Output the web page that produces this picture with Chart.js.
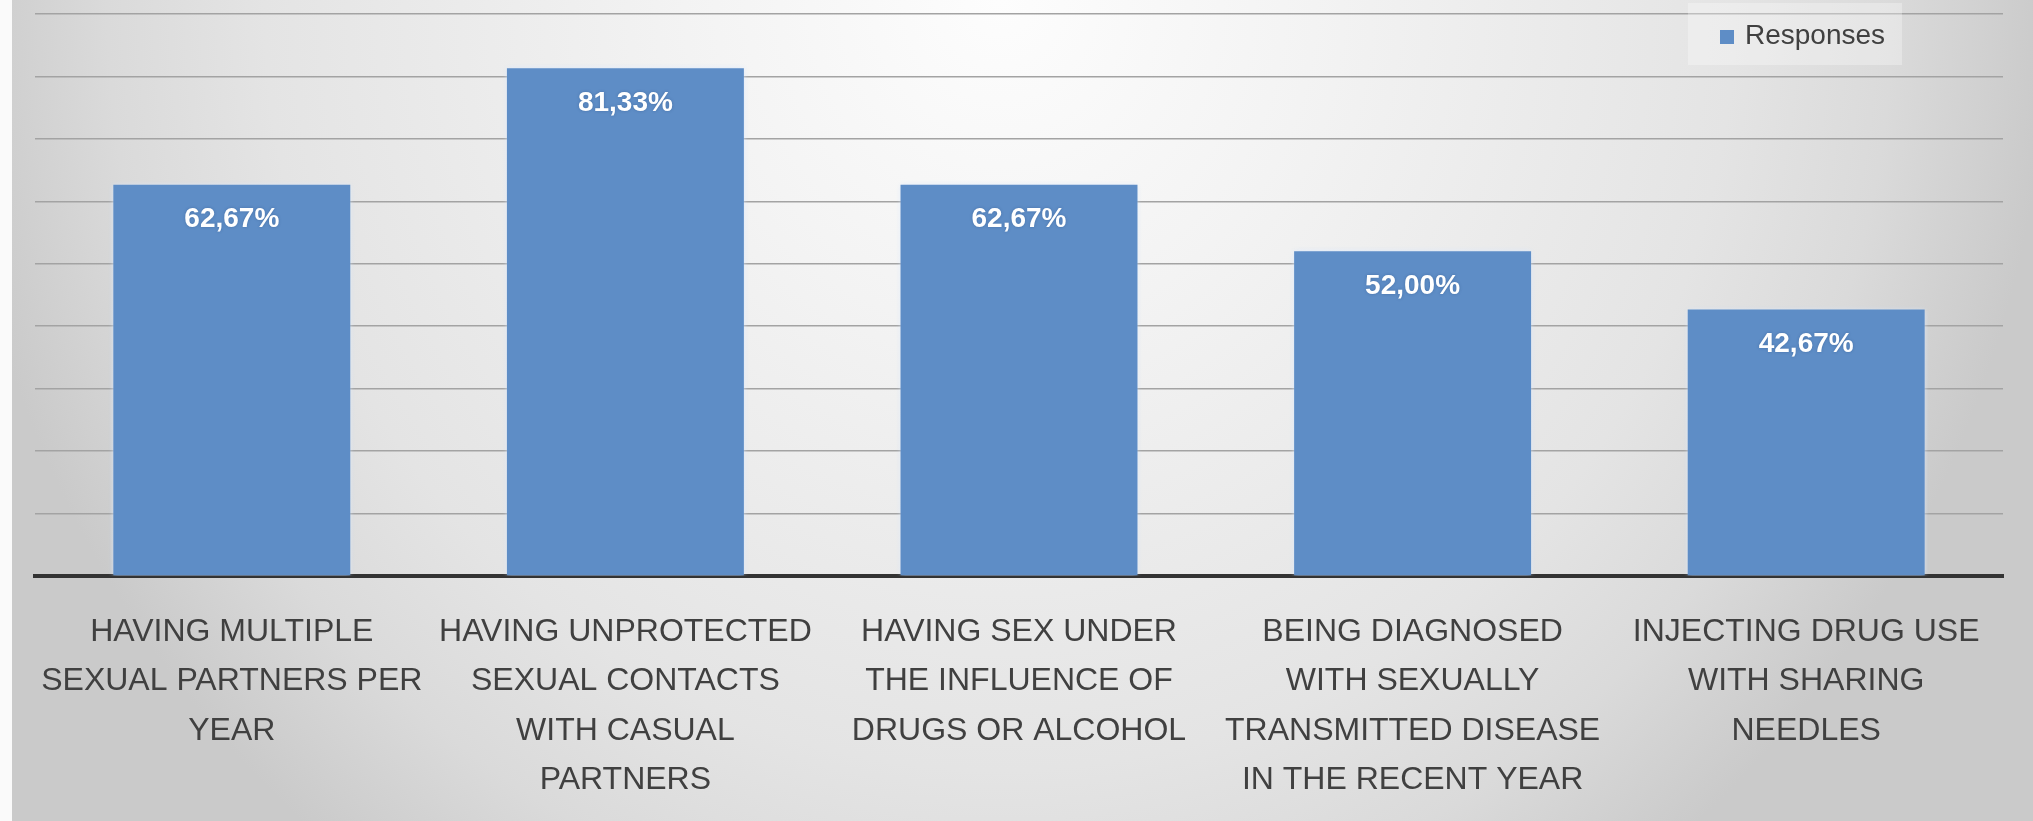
<!DOCTYPE html>
<html>
<head>
<meta charset="utf-8">
<script src="https://cdn.jsdelivr.net/npm/chart.js@4"></script>
<style>
  html, body { margin: 0; padding: 0; background: #fff; }
  canvas { display: block; }
</style>
</head>
<body>
<canvas id="riskChart" width="2033" height="821"></canvas>
<script>
// categories, split into label lines as shown under each bar
const categories = [
    ["HAVING MULTIPLE", "SEXUAL PARTNERS PER", "YEAR"],
    ["HAVING UNPROTECTED", "SEXUAL CONTACTS", "WITH CASUAL", "PARTNERS"],
    ["HAVING SEX UNDER", "THE INFLUENCE OF", "DRUGS OR ALCOHOL"],
    ["BEING DIAGNOSED", "WITH SEXUALLY", "TRANSMITTED DISEASE", "IN THE RECENT YEAR"],
    ["INJECTING DRUG USE", "WITH SHARING", "NEEDLES"]
];
const responses = [62.67, 81.33, 62.67, 52.00, 42.67];
const seriesName = "Responses";
const yMax = 90;
const yStep = 10;

const barColor = "#5e8dc6";
const textColor = "#404040";
const fontFamily = "'Liberation Sans', Arial, sans-serif";

// percent with decimal comma, e.g. 62,67%
function formatPct(v) {
    return v.toFixed(2).replace(".", ",") + "%";
}

// grey radial backdrop, lighter towards the top middle
const backdrop = {
    id: "backdrop",
    beforeDraw(chart) {
        const ctx = chart.ctx;
        const w = chart.width, h = chart.height;
        ctx.save();
        ctx.fillStyle = "#fafafa";
        ctx.fillRect(0, 0, w, h);
        ctx.beginPath();
        ctx.rect(12, 0, w - 12, h);
        ctx.clip();
        ctx.translate(1000, 0);
        ctx.scale(1, 1100 / 1050);
        const g = ctx.createRadialGradient(0, 0, 0, 0, 0, 1050);
        g.addColorStop(0, "#fdfdfd");
        g.addColorStop(0.3, "#f3f3f3");
        g.addColorStop(0.7, "#e4e4e4");
        g.addColorStop(0.85, "#dadada");
        g.addColorStop(1, "#cacaca");
        ctx.fillStyle = g;
        ctx.fillRect(-1100, -10, 2200, 900);
        ctx.restore();
    }
};

// soft light edge round the bars, then the value text inside each bar
const barLabels = {
    id: "barLabels",
    beforeDatasetsDraw(chart) {
        const ctx = chart.ctx;
        ctx.save();
        ctx.shadowColor = "rgba(215, 232, 255, 0.95)";
        ctx.shadowBlur = 5;
    },
    afterDatasetsDraw(chart) {
        const ctx = chart.ctx;
        ctx.restore();
        const meta = chart.getDatasetMeta(0);
        ctx.save();
        ctx.font = "bold 28px " + fontFamily;
        ctx.fillStyle = "#ffffff";
        ctx.textAlign = "center";
        ctx.textBaseline = "middle";
        ctx.shadowColor = "rgba(30, 60, 110, 0.35)";
        ctx.shadowBlur = 3;
        meta.data.forEach((bar, i) => {
            ctx.fillText(formatPct(responses[i]), bar.x, bar.y + 35);
        });
        ctx.restore();
    }
};

// legend entry in the top right corner
const cornerLegend = {
    id: "cornerLegend",
    afterDraw(chart) {
        const ctx = chart.ctx;
        ctx.save();
        ctx.fillStyle = "rgba(255, 255, 255, 0.3)";
        ctx.fillRect(1688, 3, 214, 62);
        ctx.fillStyle = barColor;
        ctx.fillRect(1720, 30, 14, 14);
        ctx.font = "28px " + fontFamily;
        ctx.fillStyle = textColor;
        ctx.textAlign = "left";
        ctx.textBaseline = "middle";
        ctx.fillText(chart.data.datasets[0].label, 1745, 36);
        ctx.restore();
    }
};

const ctx = document.getElementById("riskChart").getContext("2d");
new Chart(ctx, {
    type: "bar",
    data: {
        labels: categories,
        datasets: [{
            label: seriesName,
            data: responses,
            backgroundColor: barColor,
            borderWidth: 0,
            categoryPercentage: 1,
            barPercentage: 0.602
        }]
    },
    options: {
        responsive: false,
        animation: false,
        devicePixelRatio: 1,
        layout: {
            padding: { left: 35, right: 30, top: 14, bottom: 0 }
        },
        plugins: {
            legend: { display: false },
            tooltip: { enabled: false }
        },
        scales: {
            x: {
                z: 1,
                grid: { display: false, drawTicks: false },
                border: { display: true, color: "#333333", width: 4 },
                ticks: {
                    color: textColor,
                    font: { family: fontFamily, size: 32, lineHeight: 1.55 },
                    padding: 31,
                    maxRotation: 0,
                    autoSkip: false
                },
                // keep the baseline at y = 576
                afterFit(scale) {
                    scale.height = 245;
                }
            },
            y: {
                min: 0,
                max: yMax,
                grid: { color: "#a3a3a3", lineWidth: 1.5, drawTicks: false },
                border: { display: false },
                ticks: { display: false, stepSize: yStep }
            }
        }
    },
    plugins: [backdrop, barLabels, cornerLegend]
});
</script>
</body>
</html>
